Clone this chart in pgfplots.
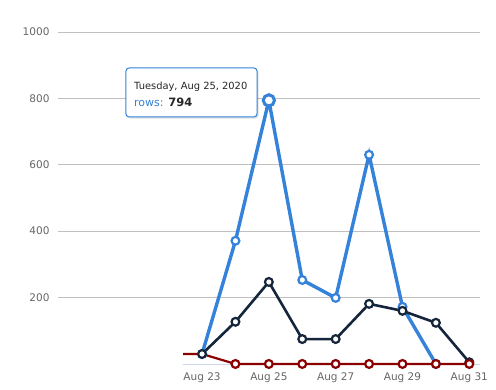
\documentclass[border=0pt]{standalone}
\usepackage{fontspec}
\setmainfont{DejaVu Sans}
\usepackage{pgfplots}
\pgfplotsset{compat=1.18}
\definecolor{cblue}{RGB}{52,130,218}
\definecolor{cnavy}{RGB}{21,38,60}
\definecolor{cred}{RGB}{139,0,0}
\definecolor{cgrid}{RGB}{192,192,192}
\definecolor{ctick}{RGB}{102,102,102}
\definecolor{cxaxis}{RGB}{204,214,235}
\begin{document}
\begin{tikzpicture}
\useasboundingbox (-58pt,-19.4pt) rectangle (438pt,370.6pt);
\begin{axis}[
  scale only axis, width=422pt, height=338.6pt,
  xmin=18.69, xmax=31.32, ymin=-20, ymax=1000,
  axis line style={draw=none},
  xtick=\empty, ytick={200,400,600,800,1000},
  ymajorgrids, grid style={cgrid, line width=0.8pt},
  major tick length=0pt,
  /pgf/number format/assume math mode=true,
  /pgf/number format/1000 sep={},
  yticklabel style={font=\fontsize{10.5}{12}\selectfont, text=ctick, anchor=east, xshift=-5pt},
]
\end{axis}
\begin{axis}[
  at={(125pt,0pt)},
  scale only axis, width=297pt, height=338.6pt,
  xmin=22.43, xmax=31.32, ymin=-20, ymax=1000,
  axis line style={draw=none},
  ytick=\empty, xtick={23,25,27,29,31},
  xticklabels={Aug 23,Aug 25,Aug 27,Aug 29,Aug 31},
  major tick length=0pt,
  xticklabel style={font=\fontsize{10.5}{12}\selectfont, text=ctick, anchor=north, yshift=1.5pt},
  clip=true,
]
\draw[cxaxis, line width=0.8pt] (axis cs:22.43,0) -- (axis cs:31.32,0);
\addplot[cblue, line width=3.4pt, mark=*, mark size=3.9pt,
  mark options={fill=white, draw=cblue, line width=2.2pt}] coordinates {
  (23,30) (24,371) (25,794) (26,253) (27,199) (28,630) (29,172) (30,0)
};
\addplot[cnavy, line width=2.6pt, mark=*, mark size=3.9pt,
  mark options={fill=white, draw=cnavy, line width=2.2pt}] coordinates {
  (23,30) (24,127) (25,247) (26,75) (27,75) (28,181) (29,160) (30,124) (31,5)
};
\addplot[cred, line width=2.2pt, mark=*, mark size=3.9pt,
  mark options={fill=white, draw=cred, line width=2.2pt}, mark indices={2,3,4,5,6,7,8,9,10}] coordinates {
  (22,30) (23,30) (24,0) (25,0) (26,0) (27,0) (28,0) (29,0) (30,0) (31,0)
};
\addplot[only marks, mark=*, mark size=5.6pt,
  mark options={fill=white, draw=cblue, line width=3pt}] coordinates {(25,794)};
\end{axis}
% tooltip
\fill[black, opacity=0.12, rounded corners=3pt] (69.5pt,252pt) rectangle (200.5pt,301pt);
\draw[cblue, fill=white, line width=1pt, rounded corners=3pt] (68pt,253.6pt) rectangle (199pt,302.6pt);
\node[anchor=base west, inner sep=0pt, font=\fontsize{9.9}{11}\selectfont, text=black!85] at (76pt,281pt) {Tuesday, Aug 25, 2020};
\node[anchor=base west, inner sep=0pt, font=\fontsize{11}{12}\selectfont] at (76pt,264pt) {\textcolor{cblue}{rows:} \textcolor{black!85}{\bfseries\fontsize{11.5}{12}\selectfont 794}};
\end{tikzpicture}
\end{document}
